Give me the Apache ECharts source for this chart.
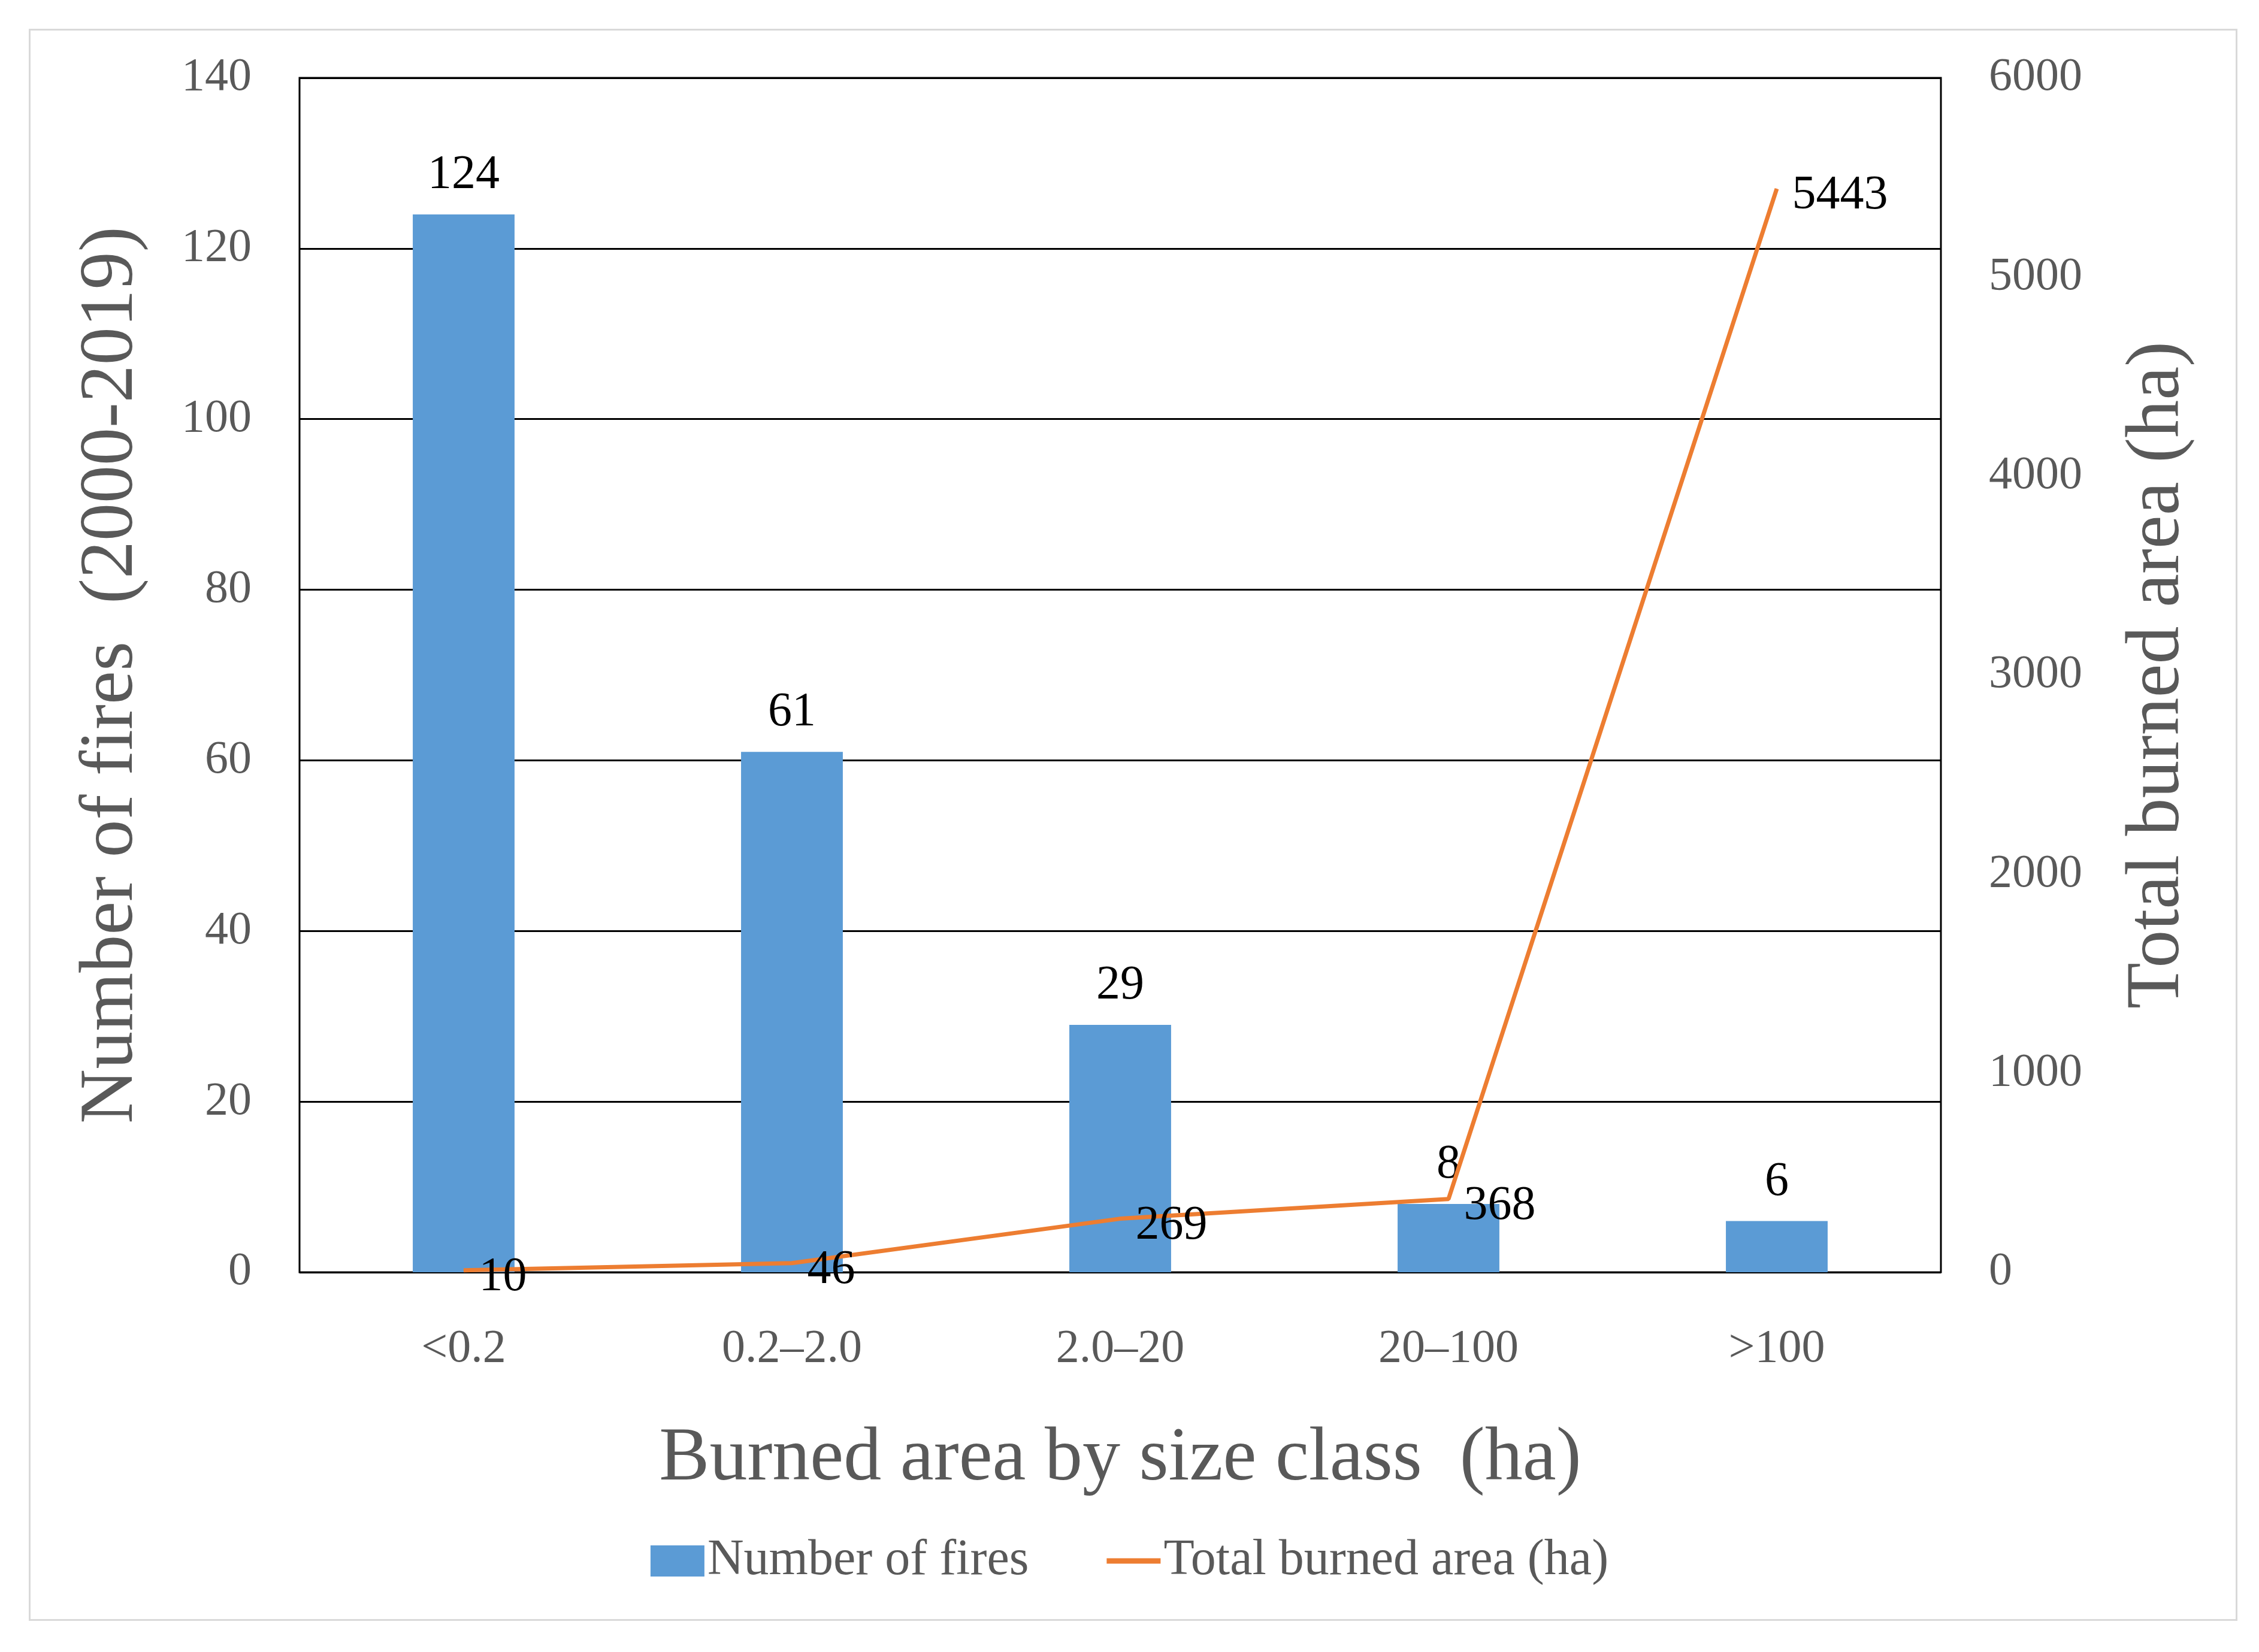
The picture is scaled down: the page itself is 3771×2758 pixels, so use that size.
<!DOCTYPE html>
<html><head><meta charset="utf-8">
<script src="https://cdn.jsdelivr.net/npm/echarts@6/dist/echarts.min.js"></script>
<style>html,body{margin:0;padding:0;background:#fff}#c{width:3771px;height:2758px}
#f{position:absolute;left:48px;top:48px;width:3687px;height:2658px;border:3px solid #d9d9d9;box-sizing:border-box;pointer-events:none}</style>
</head><body><div id="c"></div><div id="f"></div>
<script>
const categories = ['<0.2', '0.2–2.0', '2.0–20', '20–100', '>100'];
const numberOfFires = [124, 61, 29, 8, 6];
const burnedArea = [10, 46, 269, 368, 5443];
const leftTicks = [0, 140, 20];
const rightTicks = [0, 6000, 1000];
const font = 'Liberation Serif';
const grey = '#595959';
const chart = echarts.init(document.getElementById('c'));
chart.setOption({
  animation: false,
  textStyle: {fontFamily: font},
  grid: {left: 500, right: 531, top: 130, bottom: 634, show: true, borderColor: '#000', borderWidth: 3},
  legend: {bottom: 105, left: 'center', itemWidth: 90, itemHeight: 52, itemGap: 130,
    textStyle: {fontFamily: font, fontSize: 84, color: grey},
    data: [{name: 'Number of fires', icon: 'rect'},
           {name: 'Total burned area (ha)', icon: 'path://M0,0 L10,0 L10,1 L0,1 Z', itemStyle: {color: '#ED7D31'}}]},
  xAxis: {type: 'category', data: categories,
    axisLine: {show: false}, axisTick: {show: false},
    axisLabel: {fontSize: 78, color: grey, margin: 90, fontFamily: font},
    name: 'Burned area by size class  (ha)', nameLocation: 'middle', nameGap: 250,
    nameTextStyle: {fontSize: 126, color: grey, fontFamily: font}},
  yAxis: [
    {type: 'value', min: leftTicks[0], max: leftTicks[1], interval: leftTicks[2],
     axisLabel: {fontSize: 78, color: grey, margin: 80, fontFamily: font},
     splitLine: {lineStyle: {color: '#000', width: 3}},
     name: 'Number of fires  (2000-2019)', nameLocation: 'middle', nameGap: 250,
     nameTextStyle: {fontSize: 126, color: grey, fontFamily: font}},
    {type: 'value', min: rightTicks[0], max: rightTicks[1], interval: rightTicks[2],
     axisLabel: {fontSize: 78, color: grey, margin: 80, fontFamily: font, formatter: v => String(v)},
     splitLine: {show: false},
     name: 'Total burned area (ha)', nameLocation: 'middle', nameGap: 300, nameRotate: 90,
     nameTextStyle: {fontSize: 126, color: grey, fontFamily: font}}
  ],
  series: [
    {name: 'Number of fires', type: 'bar', data: numberOfFires, barWidth: '31%',
     itemStyle: {color: '#5B9BD5'},
     label: {show: true, position: 'top', distance: 25, fontSize: 80, color: '#000', fontFamily: font}},
    {name: 'Total burned area (ha)', type: 'line', yAxisIndex: 1, data: burnedArea,
     symbol: 'circle', symbolSize: 1, showSymbol: true,
     lineStyle: {color: '#ED7D31', width: 7}, itemStyle: {color: '#ED7D31'},
     label: {show: true, position: 'right', distance: 25, offset: [0, 12], fontSize: 80, color: '#000', fontFamily: font}}
  ]
});
</script></body></html>
